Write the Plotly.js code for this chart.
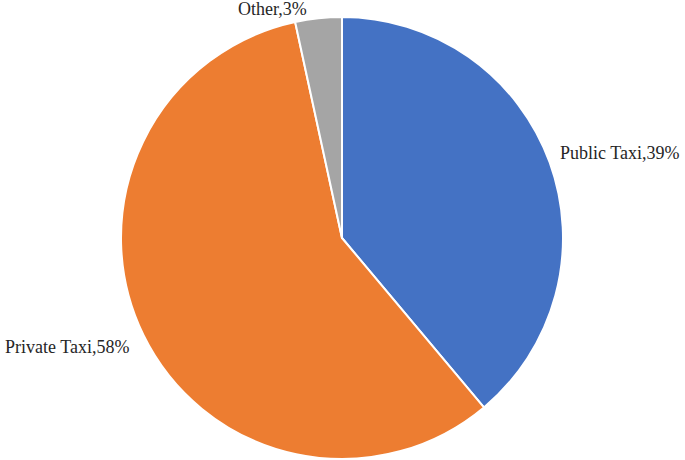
<!DOCTYPE html>
<html>
<head>
<meta charset="utf-8">
<script src="https://cdn.plot.ly/plotly-3.0.1.min.js"></script>
<style>html,body{margin:0;padding:0;background:#fff;}#chart{width:685px;height:460px;}</style>
</head>
<body>
<div id="chart"></div>
<script>
const categories = ["Public Taxi", "Private Taxi", "Other"];
const shares = [38.9, 57.7, 3.4];
const labelPercents = ["39%", "58%", "3%"];
const colors = ["#4472C4", "#ED7D31", "#A5A5A5"];

const W = 685, H = 460;
const labelPos = [
  {px: 558, py: 153},
  {px: 3, py: 347},
  {px: 236, py: 9}
];

const annotations = categories.map((c, i) => ({
  text: c + "," + labelPercents[i],
  xref: "paper", yref: "paper",
  x: labelPos[i].px / W, y: 1 - labelPos[i].py / H,
  xanchor: "left", yanchor: "middle",
  showarrow: false,
  font: {family: "Liberation Serif, Times New Roman, serif", size: 18, color: "#262626"}
}));

const data = [{
  type: "pie",
  labels: categories,
  values: shares,
  sort: false,
  direction: "clockwise",
  rotation: 0,
  marker: {colors: colors, line: {color: "#ffffff", width: 2}},
  textinfo: "none",
  hoverinfo: "label+percent",
  showlegend: false,
  domain: {x: [121 / W, 563 / W], y: [1 - 459 / H, 1 - 17 / H]}
}];

const layout = {
  width: W, height: H,
  margin: {l: 0, r: 0, t: 0, b: 0},
  paper_bgcolor: "#ffffff",
  showlegend: false,
  annotations: annotations
};

Plotly.newPlot("chart", data, layout, {displayModeBar: false, staticPlot: true});
</script>
</body>
</html>
